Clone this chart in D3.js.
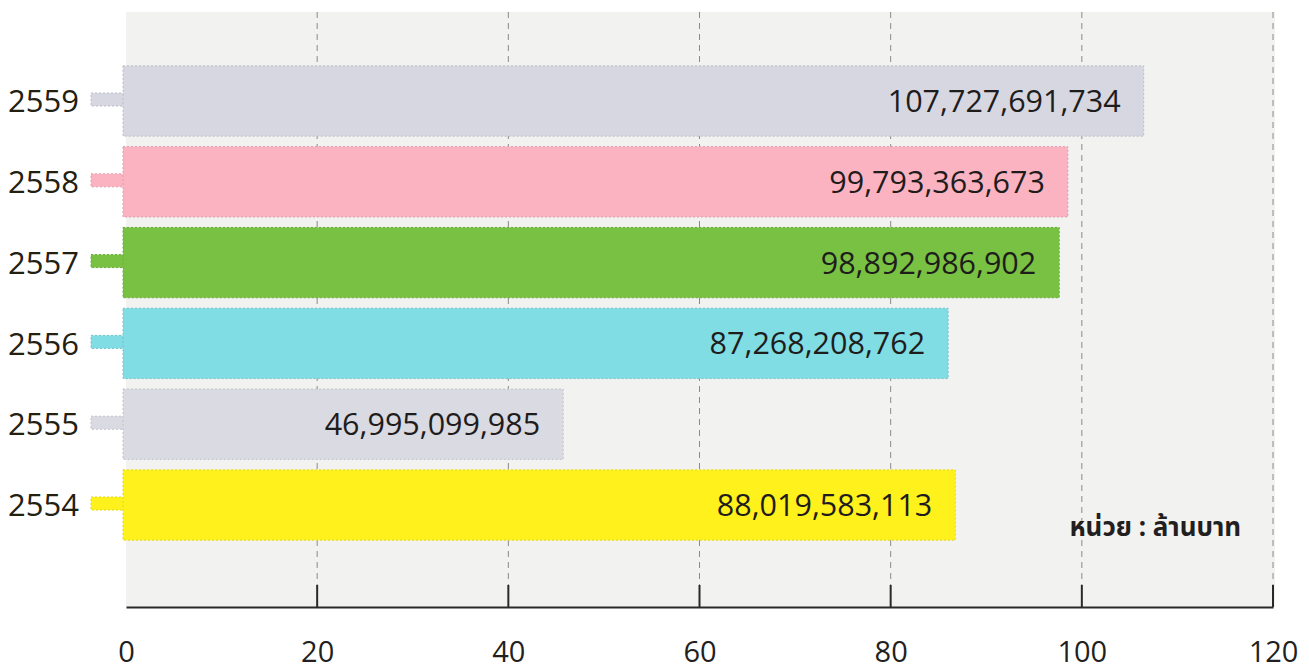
<!DOCTYPE html>
<html>
<head>
<meta charset="utf-8">
<script src="https://cdn.jsdelivr.net/npm/d3@7"></script>
<style>
  html, body { margin: 0; padding: 0; background: #ffffff; }
  svg { display: block; }
</style>
</head>
<body>
<svg id="chart" width="1309" height="672"></svg>
<script>
// ---- data ----
const years = ["2559", "2558", "2557", "2556", "2555", "2554"];
const values = [107727691734, 99793363673, 98892986902, 87268208762, 46995099985, 88019583113];
const barColors = ["#d6d7e0", "#fbb3c2", "#78c142", "#80dde3", "#d9dae2", "#fff21c"];
const tickValues = [0, 20, 40, 60, 80, 100, 120];
const unitLabel = "หน่วย : ล้านบาท";

const svg = d3.select("#chart");
const font = "'Open Sans', 'Noto Sans', sans-serif";

const x = d3.scaleLinear().domain([0, 120]).range([126, 1273]);
const y = d3.scaleBand().domain(years).range([61, 545]).paddingInner(0.13).paddingOuter(0.06);

// plot panel background
svg.append("rect")
  .attr("x", x(0)).attr("y", 12)
  .attr("width", x(120) - x(0) + 2).attr("height", 607 - 12)
  .attr("fill", "#f2f2f0");

// dashed gridlines
svg.append("g").selectAll("line")
  .data(tickValues.filter(d => d > 0))
  .join("line")
  .attr("x1", d => x(d)).attr("x2", d => x(d))
  .attr("y1", 12).attr("y2", 586)
  .attr("stroke", "#8a8a8a").attr("stroke-width", 1)
  .attr("stroke-dasharray", "6,5");

// bars
const barStart = x(0) - 3;
const bars = svg.append("g").selectAll("g")
  .data(years.map((yr, i) => ({ yr, v: values[i], c: barColors[i] })))
  .join("g");

// small tab on the left
bars.append("rect")
  .attr("x", 91).attr("width", barStart - 91 + 1)
  .attr("y", d => y(d.yr) + y.bandwidth() / 2 - 8)
  .attr("height", 13)
  .attr("fill", d => d.c)
  .attr("stroke", d => d3.color(d.c).darker(0.35))
  .attr("stroke-width", 1)
  .attr("stroke-dasharray", "2,2");

bars.append("rect")
  .attr("x", barStart)
  .attr("y", d => y(d.yr))
  .attr("width", d => x(d.v / 1e9) - barStart - 12)
  .attr("height", y.bandwidth())
  .attr("fill", d => d.c)
  .attr("stroke", d => d3.color(d.c).darker(0.35))
  .attr("stroke-width", 1)
  .attr("stroke-dasharray", "2,2");

// value labels
bars.append("text")
  .attr("x", d => x(d.v / 1e9) - 12 - 23)
  .attr("y", d => y(d.yr) + y.bandwidth() / 2)
  .attr("dy", "0.36em")
  .attr("text-anchor", "end")
  .attr("font-family", font)
  .attr("font-size", 30.5)
  .attr("fill", "#1f1c1c")
  .text(d => d3.format(",")(d.v));

// category labels
svg.append("g").selectAll("text")
  .data(years)
  .join("text")
  .attr("x", 8)
  .attr("y", d => y(d) + y.bandwidth() / 2)
  .attr("dy", "0.36em")
  .attr("font-family", font)
  .attr("font-size", 31)
  .attr("font-weight", 500)
  .attr("fill", "#23200f")
  .text(d => d);

// x axis
const axis = d3.axisBottom(x).tickValues(tickValues).tickSize(0).tickPadding(0).tickFormat(d3.format("d"));
const ax = svg.append("g").attr("transform", "translate(0,607)").call(axis);
ax.select(".domain").attr("stroke", "#2a2a2a").attr("stroke-width", 2);
ax.selectAll("text")
  .attr("font-family", font)
  .attr("font-size", 29)
  .attr("fill", "#231f20")
  .attr("y", 34);

// vertical tick marks above axis
svg.append("g").selectAll("line")
  .data(tickValues.filter(d => d > 0))
  .join("line")
  .attr("x1", d => x(d)).attr("x2", d => x(d))
  .attr("y1", 585).attr("y2", 607)
  .attr("stroke", "#2a2a2a").attr("stroke-width", 2);

// unit label
svg.append("text")
  .attr("x", 1241).attr("y", 536)
  .attr("text-anchor", "end")
  .attr("font-family", "'Noto Sans', 'Noto Sans Thai', sans-serif")
  .attr("font-weight", "bold")
  .attr("font-size", 26)
  .attr("fill", "#231f20")
  .text(unitLabel);
</script>
</body>
</html>
